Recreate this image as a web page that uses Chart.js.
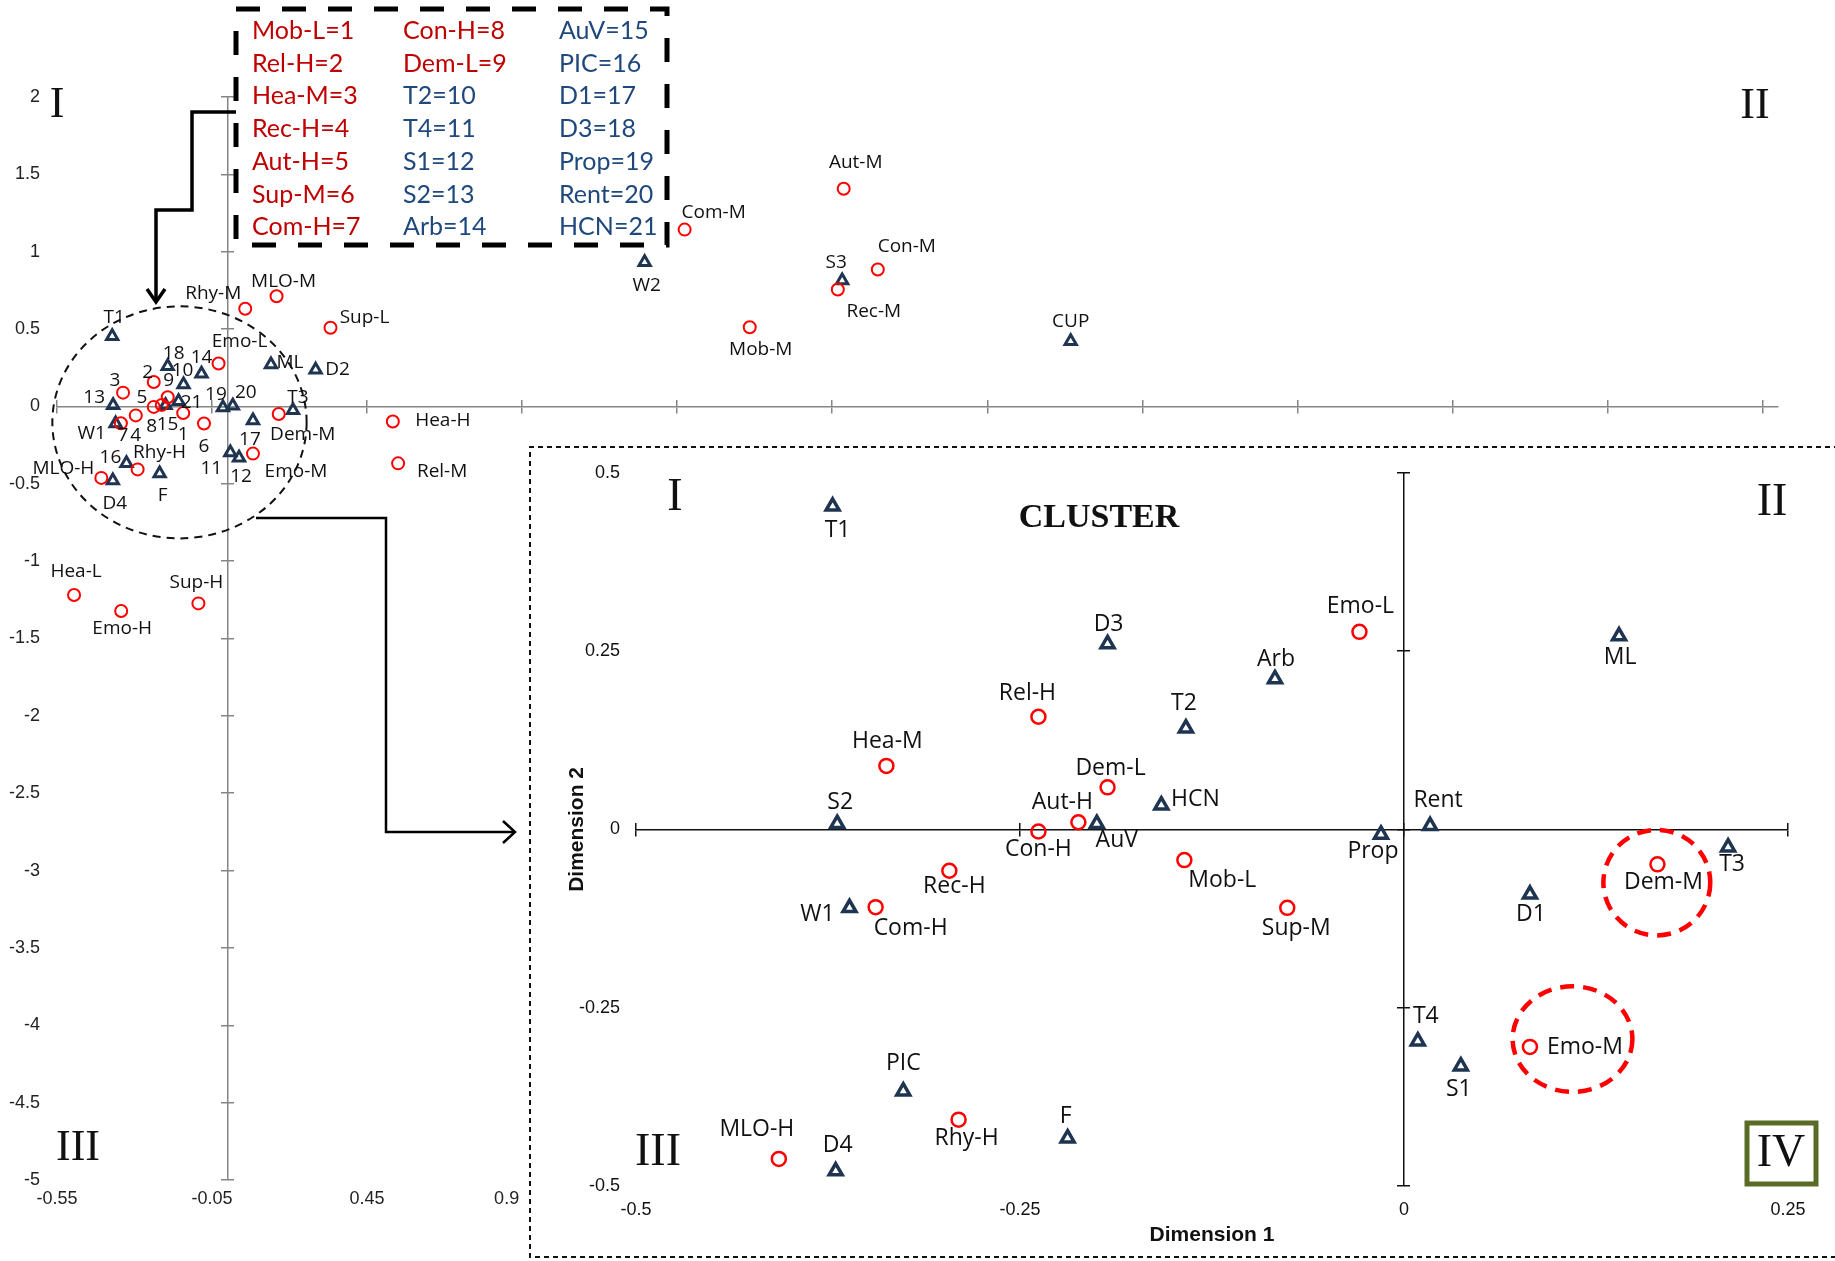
<!DOCTYPE html>
<html>
<head>
<meta charset="utf-8">
<script src="https://cdn.jsdelivr.net/npm/chart.js@4.4.1/dist/chart.umd.min.js"></script>
<style>
  body { margin: 0; background: #fff; }
  #page { position: relative; width: 1835px; height: 1261px; overflow: hidden; }
  #main { position: absolute; left: 0; top: 0; }
  #insetBox { position: absolute; left: 529px; top: 446px; width: 1306px; height: 815px; background: #fff; }
</style>
</head>
<body>
<div id="page">
  <canvas id="main" width="1835" height="1261"></canvas>
  <div id="insetBox"><canvas id="inset" width="1306" height="815"></canvas></div>
</div>
<script>
// red circles: category points
const catNames = ['Mob-L', 'Rel-H', 'Hea-M', 'Rec-H', 'Aut-H', 'Sup-M', 'Com-H', 'Con-H', 'Dem-L',
    'Emo-L', 'Dem-M', 'Emo-M', 'Rhy-H', 'MLO-H', 'Rhy-M', 'MLO-M', 'Sup-L', 'Hea-H', 'Rel-M',
    'Hea-L', 'Emo-H', 'Sup-H', 'Aut-M', 'Com-M', 'Con-M', 'Rec-M', 'Mob-M'];
const catX = [-0.143, -0.238, -0.337, -0.296, -0.212, -0.076, -0.344, -0.238, -0.193,
    -0.029, 0.165, 0.082, -0.290, -0.407, 0.057, 0.158, 0.332, 0.533, 0.550,
    -0.495, -0.343, -0.094, 1.987, 1.474, 2.097, 1.968, 1.684];
const catY = [-0.043, 0.158, 0.089, -0.058, 0.010, -0.110, -0.109, -0.003, 0.059,
    0.277, -0.049, -0.305, -0.407, -0.462, 0.631, 0.712, 0.509, -0.097, -0.368,
    -1.219, -1.322, -1.273, 1.407, 1.143, 0.885, 0.756, 0.512];

// dark triangles: variable points
const varNames = ['T1', 'T2', 'T3', 'T4', 'S1', 'S2', 'S3', 'W1', 'W2', 'D1', 'D2', 'D3', 'D4',
    'Arb', 'AuV', 'PIC', 'Prop', 'Rent', 'HCN', 'ML', 'F', 'CUP'];
const varX = [-0.372, -0.142, 0.211, 0.009, 0.037, -0.369, 1.982, -0.361, 1.345, 0.082, 0.284, -0.193, -0.370,
    -0.084, -0.200, -0.326, -0.015, 0.017, -0.158, 0.140, -0.219, 2.719];
const varY = [0.453, 0.142, -0.025, -0.297, -0.332, 0.008, 0.814, -0.110, 0.932, -0.091, 0.237, 0.260, -0.479,
    0.211, 0.008, -0.367, -0.007, 0.005, 0.034, 0.271, -0.433, 0.422];

// numbered key of the big chart
const keyOrder = ['Mob-L', 'Rel-H', 'Hea-M', 'Rec-H', 'Aut-H', 'Sup-M', 'Com-H',
    'Con-H', 'Dem-L', 'T2', 'T4', 'S1', 'S2', 'Arb',
    'AuV', 'PIC', 'D1', 'D3', 'Prop', 'Rent', 'HCN'];

const mainXLabels = [-0.55, -0.05, 0.45, 0.9];
const mainXMarks = [-0.55, -0.05, 0.45, 0.95, 1.45, 1.95, 2.45, 2.95, 3.45, 3.95, 4.45, 4.95];
const insetXTicks = [-0.5, -0.25, 0, 0.25];

const RED = '#ff0000', NAVY = '#1f3450';
const KEY_RED = '#c00000', KEY_BLUE = '#1f497d';

// label offsets [dx, dy] of the text centre from the point
const mainLabelAt = {
    'D3': [6, -13], 'Arb': [0, -16], 'Rel-H': [-6, -9], 'T2': [-1, -14], 'Dem-L': [1, -17],
    'Hea-M': [-8, -12], 'S2': [-19, -8], 'Aut-H': [-20, -7], 'HCN': [13, 1], 'Prop': [-7, -13],
    'Rent': [13, -13], 'Con-H': [-2, 20], 'AuV': [2, 19], 'Mob-L': [0, 22], 'Sup-M': [0, 23],
    'D1': [-3, 19], 'Com-H': [2, 12], 'Rec-H': [0, 20], 'PIC': [-16, -6], 'T4': [-19, 16],
    'S1': [2, 19], 'W1': [-24, 10], 'Rhy-H': [22, -17], 'Emo-M': [43, 18], 'Dem-M': [24, 21],
    'MLO-H': [-38, -9], 'D4': [2, 23], 'F': [3, 22], 'T1': [2, -19], 'Emo-L': [21, -22],
    'ML': [19, -2], 'D2': [22, 0], 'T3': [5, -13], 'Rhy-M': [-32, -15], 'MLO-M': [7, -15],
    'Sup-L': [34, -10], 'Hea-H': [50, -1], 'Rel-M': [44, 8], 'Hea-L': [2, -23], 'Emo-H': [1, 18],
    'Sup-H': [-2, -21], 'Aut-M': [12, -26], 'Com-M': [29, -17], 'W2': [2, 23], 'Con-M': [29, -23],
    'S3': [-6, -18], 'Rec-M': [36, 22], 'Mob-M': [11, 22], 'CUP': [0, -20]
};
const insetLabelAt = {
    'T1': [5, 24], 'D3': [1, -20], 'Rel-H': [-11, -23], 'T2': [-2, -25], 'Hea-M': [1, -24],
    'Dem-L': [3, -19], 'HCN': [34, -6], 'S2': [3, -21], 'Aut-H': [-16, -20], 'AuV': [20, 17],
    'Con-H': [0, 18], 'Mob-L': [38, 20], 'Rec-H': [5, 16], 'W1': [-32, 7], 'Com-H': [35, 21],
    'PIC': [0, -28], 'Rhy-H': [8, 19], 'F': [-2, -22], 'MLO-H': [-22, -29], 'D4': [2, -26],
    'Emo-L': [1, -25], 'Arb': [1, -19], 'ML': [1, 21], 'Rent': [8, -25], 'Prop': [-8, 17],
    'Sup-M': [9, 21], 'T3': [4, 17], 'Dem-M': [6, 18], 'D1': [1, 20], 'T4': [8, -25],
    'S1': [-2, 23], 'Emo-M': [55, 1]
};

let points = (xs, ys) => xs.map((x, i) => ({x: x, y: ys[i]}));
let names = [catNames, varNames];

let drawLabels = (chart, offsets, font, textFor, insideOnly) => {
    let ctx = chart.ctx;
    let a = chart.chartArea;
    ctx.save();
    ctx.font = font;
    ctx.fillStyle = '#111';
    ctx.textAlign = 'center';
    ctx.textBaseline = 'middle';
    names.forEach((list, di) => {
        chart.getDatasetMeta(di).data.forEach((pt, i) => {
            if (insideOnly && (pt.x < a.left - 2 || pt.x > a.right + 2 || pt.y < a.top - 2 || pt.y > a.bottom + 2)) {
                return;
            }
            let off = offsets[list[i]] || [0, -18];
            ctx.fillText(textFor(list[i]), pt.x + off[0], pt.y + off[1]);
        });
    });
    ctx.restore();
};

let ellipse = (ctx, cx, cy, rx, ry, color, width, dash) => {
    ctx.save();
    ctx.strokeStyle = color;
    ctx.lineWidth = width;
    ctx.setLineDash(dash);
    ctx.beginPath();
    ctx.ellipse(cx, cy, rx, ry, 0, 0, Math.PI * 2);
    ctx.stroke();
    ctx.restore();
};

let polyline = (ctx, pts, width) => {
    ctx.beginPath();
    ctx.lineWidth = width;
    pts.forEach((p, i) => i ? ctx.lineTo(p[0], p[1]) : ctx.moveTo(p[0], p[1]));
    ctx.stroke();
};

let numeral = (ctx, text, x, y, size) => {
    ctx.save();
    ctx.font = size + 'px "Liberation Serif"';
    ctx.fillStyle = '#111';
    ctx.textAlign = 'center';
    ctx.textBaseline = 'middle';
    ctx.fillText(text, x, y);
    ctx.restore();
};

let axisPair = (axis, pos, extra) => {
    // an axis line with tick marks crossing it (two scales, one per side)
    let base = Object.assign({
        type: 'linear', position: pos,
        ticks: {display: false},
        grid: {drawOnChartArea: false, tickLength: 6, color: extra.color, lineWidth: 1.5}
    }, extra.scale);
    let a = JSON.parse(JSON.stringify(base));
    let b = JSON.parse(JSON.stringify(base));
    a.border = {display: true, color: extra.color, width: extra.width};
    b.border = {display: false};
    b.grid.tickLength = -6;
    if (extra.marks) {
        a.afterBuildTicks = s => { s.ticks = extra.marks.map(v => ({value: v})); };
        b.afterBuildTicks = a.afterBuildTicks;
    }
    return [a, b];
};

// ---------- big chart ----------
let mainDecor = {
    id: 'mainDecor',
    beforeDatasetsDraw: chart => {
        let sx = chart.scales.x, sy = chart.scales.y;
        let cx = sx.getPixelForValue(-0.155), cy = sy.getPixelForValue(-0.103);
        ellipse(chart.ctx, cx, cy, sx.getPixelForValue(0.255) - cx, cy - sy.getPixelForValue(0.647),
            '#111', 2, [8, 6]);
    },
    afterDatasetsDraw: chart => {
        let ctx = chart.ctx;
        drawLabels(chart, mainLabelAt, '19px "Open Sans"',
            n => keyOrder.indexOf(n) >= 0 ? String(keyOrder.indexOf(n) + 1) : n, false);

        numeral(ctx, 'I', 57, 105, 44);
        numeral(ctx, 'II', 1755, 106, 44);
        numeral(ctx, 'III', 78, 1148, 44);

        // arrows
        ctx.save();
        ctx.strokeStyle = '#000';
        polyline(ctx, [[236, 112], [192, 112], [192, 210], [156, 210], [156, 301]], 3.5);
        polyline(ctx, [[147, 289], [156, 302], [165, 289]], 3.5);
        polyline(ctx, [[256, 518], [386, 518], [386, 832], [514, 832]], 2.5);
        polyline(ctx, [[503, 821], [515, 832], [503, 843]], 2.5);

        // numbered key
        ctx.fillStyle = '#fff';
        ctx.fillRect(236, 9, 431, 236);
        ctx.setLineDash([24, 22]);
        ctx.lineWidth = 5;
        ctx.strokeRect(236, 9, 431, 236);
        ctx.setLineDash([]);
        ctx.font = '25px Lato';
        ctx.textBaseline = 'middle';
        let colX = [252, 403, 559];
        keyOrder.forEach((n, i) => {
            ctx.fillStyle = catNames.indexOf(n) >= 0 ? KEY_RED : KEY_BLUE;
            ctx.fillText(n + '=' + (i + 1), colX[Math.floor(i / 7)], 31 + (i % 7) * 32.7);
        });
        ctx.restore();
    }
};

let mainAxes = {
    x: {
        type: 'linear', position: 'bottom', min: -0.55, max: 5.0,
        grid: {display: false, drawTicks: false}, border: {display: false},
        afterBuildTicks: s => { s.ticks = mainXLabels.map(v => ({value: v})); },
        afterFit: s => { s.height = 81; },
        ticks: {autoSkip: false, maxRotation: 0, padding: 8, color: '#222',
            font: {family: '"Liberation Sans"', size: 18}, callback: v => String(v)}
    },
    y: {
        type: 'linear', position: 'left', min: -5, max: 2,
        grid: {display: false, drawTicks: false}, border: {display: false},
        afterFit: s => { s.width = 57; },
        ticks: {stepSize: 0.5, padding: 17, color: '#222',
            font: {family: '"Liberation Sans"', size: 18}, callback: v => String(v)}
    }
};
let mx = axisPair('x', {y: 0}, {color: '#868686', width: 1.5, marks: mainXMarks,
    scale: {min: -0.55, max: 5.0}});
let my = axisPair('y', {x: 0}, {color: '#868686', width: 1.5,
    scale: {min: -5, max: 2, ticks: {display: false, stepSize: 0.5}}});
mainAxes.xLine = mx[0]; mainAxes.xLine2 = mx[1];
mainAxes.yLine = my[0]; mainAxes.yLine2 = my[1];
mainAxes.yLine.axis = 'y'; mainAxes.yLine2.axis = 'y';
mainAxes.xLine.axis = 'x'; mainAxes.xLine2.axis = 'x';

new Chart(document.getElementById('main'), {
    type: 'scatter',
    data: {
        datasets: [{
            label: 'Categories',
            data: points(catX, catY),
            pointStyle: 'circle', pointRadius: 6, borderWidth: 2,
            borderColor: RED, backgroundColor: 'rgba(0,0,0,0)'
        }, {
            label: 'Variables',
            data: points(varX, varY),
            pointStyle: 'triangle', pointRadius: 6.5, borderWidth: 3,
            borderColor: NAVY, backgroundColor: 'rgba(0,0,0,0)'
        }]
    },
    options: {
        responsive: false, animation: false, devicePixelRatio: 1,
        layout: {padding: {top: 97, right: 57, left: 0, bottom: 0}},
        plugins: {legend: {display: false}, tooltip: {enabled: false}},
        scales: mainAxes
    },
    plugins: [mainDecor]
});

// ---------- cluster close-up ----------
let insetDecor = {
    id: 'insetDecor',
    beforeDatasetsDraw: chart => {
        let ctx = chart.ctx;
        ctx.save();
        ctx.strokeStyle = '#111';
        ctx.lineWidth = 2;
        ctx.setLineDash([5, 4]);
        polyline(ctx, [[1400, 1], [1, 1], [1, 811], [1400, 811]], 2);
        ctx.restore();
    },
    afterDatasetsDraw: chart => {
        let ctx = chart.ctx;
        let sx = chart.scales.x, sy = chart.scales.y;
        drawLabels(chart, insetLabelAt, '23px "Open Sans"', n => n, true);

        // red dashed rings round Dem-M and Emo-M
        [[0.1646, -0.0746, 0.0348, 0.074], [0.1097, -0.294, 0.039, 0.074]].forEach(r => {
            let cx = sx.getPixelForValue(r[0]), cy = sy.getPixelForValue(r[1]);
            ellipse(ctx, cx, cy, sx.getPixelForValue(r[0] + r[2]) - cx,
                cy - sy.getPixelForValue(r[1] + r[3]), RED, 4.5, [14, 9]);
        });

        ctx.save();
        ctx.font = 'bold 34px "Liberation Serif"';
        ctx.fillStyle = '#111';
        ctx.textAlign = 'center';
        ctx.textBaseline = 'middle';
        ctx.fillText('CLUSTER', 570, 72);
        ctx.restore();

        numeral(ctx, 'I', 146, 52, 46);
        numeral(ctx, 'II', 1243, 57, 46);
        numeral(ctx, 'III', 129, 707, 46);
        ctx.save();
        ctx.strokeStyle = '#5a6b26';
        ctx.lineWidth = 5;
        ctx.strokeRect(1218, 677, 69, 61);
        ctx.restore();
        numeral(ctx, 'IV', 1252, 708, 46);
    }
};

let insetAxes = {
    x: {
        type: 'linear', position: 'bottom', min: -0.5, max: 0.25,
        grid: {display: false, drawTicks: false}, border: {display: false},
        afterBuildTicks: s => { s.ticks = insetXTicks.map(v => ({value: v})); },
        afterFit: s => { s.height = 75; },
        ticks: {autoSkip: false, maxRotation: 0, padding: 13, color: '#111',
            font: {family: '"Liberation Sans"', size: 18}, callback: v => String(v)},
        title: {display: true, text: 'Dimension 1', color: '#111', padding: {top: 0, bottom: 13},
            font: {family: '"Liberation Sans"', size: 21, weight: 'bold'}}
    },
    y: {
        type: 'linear', position: 'left', min: -0.5, max: 0.5,
        grid: {display: false, drawTicks: false}, border: {display: false},
        afterFit: s => { s.width = 107; },
        ticks: {stepSize: 0.25, padding: 16, color: '#111',
            font: {family: '"Liberation Sans"', size: 18}, callback: v => String(v)},
        title: {display: true, text: 'Dimension 2', color: '#111', padding: {top: 36, bottom: 0},
            font: {family: '"Liberation Sans"', size: 21, weight: 'bold'}}
    }
};
let ix = axisPair('x', {y: 0}, {color: '#111', width: 1.5, marks: insetXTicks,
    scale: {min: -0.5, max: 0.25}});
let iy = axisPair('y', {x: 0}, {color: '#111', width: 1.5,
    scale: {min: -0.5, max: 0.5, ticks: {display: false, stepSize: 0.25}}});
insetAxes.xLine = ix[0]; insetAxes.xLine2 = ix[1];
insetAxes.yLine = iy[0]; insetAxes.yLine2 = iy[1];
insetAxes.xLine.axis = 'x'; insetAxes.xLine2.axis = 'x';
insetAxes.yLine.axis = 'y'; insetAxes.yLine2.axis = 'y';

new Chart(document.getElementById('inset'), {
    type: 'scatter',
    data: {
        datasets: [{
            label: 'Categories',
            data: points(catX, catY),
            pointStyle: 'circle', pointRadius: 7, borderWidth: 2.5,
            borderColor: RED, backgroundColor: 'rgba(0,0,0,0)'
        }, {
            label: 'Variables',
            data: points(varX, varY),
            pointStyle: 'triangle', pointRadius: 7.5, borderWidth: 3.5,
            borderColor: NAVY, backgroundColor: 'rgba(0,0,0,0)'
        }]
    },
    options: {
        responsive: false, animation: false, devicePixelRatio: 1,
        layout: {padding: {top: 24, right: 47, left: 0, bottom: 0}},
        plugins: {legend: {display: false}, tooltip: {enabled: false}},
        scales: insetAxes
    },
    plugins: [insetDecor]
});
</script>
</body>
</html>
